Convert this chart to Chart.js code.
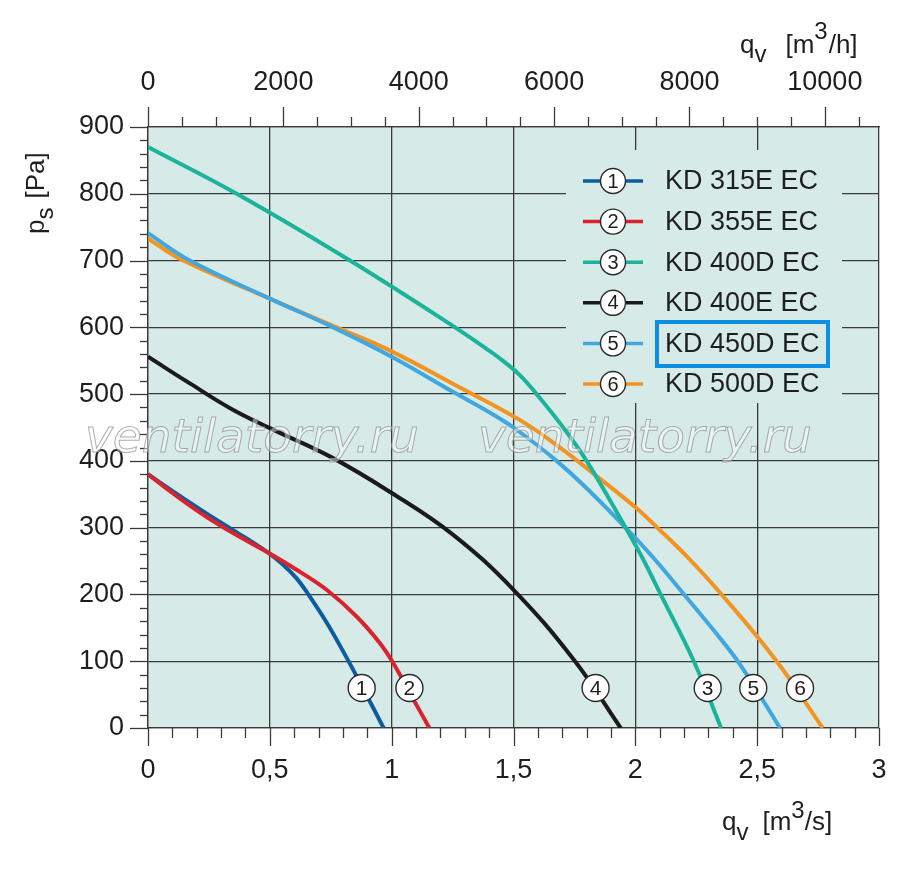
<!DOCTYPE html>
<html><head><meta charset="utf-8">
<script src="https://cdn.jsdelivr.net/npm/chart.js@4.4.0/dist/chart.umd.min.js"></script>
<style>html,body{margin:0;padding:0;background:#fff}</style>
</head><body>
<canvas id="c" width="900" height="870"></canvas>
<script>
// ---- data (q in m3/s, p in Pa) ----
const names = ['KD 315E EC','KD 355E EC','KD 400D EC','KD 400E EC','KD 450D EC','KD 500D EC'];
const colors = ['#0d5c9e','#d9232e','#1cb39b','#1a1a1a','#41a7df','#f39321'];
const q1 = [0, 0.104, 0.241, 0.364, 0.487, 0.55, 0.61, 0.658, 0.733, 0.802, 0.870, 0.967];
const p1 = [380, 354, 321, 293, 264, 246, 224, 200, 158, 114, 68, 0];
const q2 = [0, 0.104, 0.241, 0.378, 0.487, 0.610, 0.733, 0.856, 0.952, 1.007, 1.075, 1.155];
const p2 = [380, 351, 316, 286, 264, 237, 207, 167, 127, 97, 52, 0];
const q3 = [0, 0.364, 0.829, 1.26, 1.4, 1.47, 1.53, 1.595, 1.7, 1.8, 1.96, 2.033, 2.104, 2.24, 2.352];
const p3 = [870, 800, 700, 600, 565, 546, 527, 500, 452, 400, 300, 252, 200, 100, 0];
const q4 = [0, 0.172, 0.337, 0.5, 0.75, 1.0, 1.25, 1.5, 1.75, 1.94];
const p4 = [556, 516, 479, 449, 406, 352, 290, 207, 101, 0];
const q5 = [0, 0.172, 0.5, 0.76, 1.0, 1.253, 1.4, 1.5, 1.677, 1.82, 1.96, 2.081, 2.2, 2.32, 2.43, 2.594];
const p5 = [741, 700, 643, 600, 556, 503, 473, 450, 400, 352, 300, 252, 200, 147, 95, 0];
const q6 = [0, 0.145, 0.5, 0.774, 1.0, 1.253, 1.527, 1.691, 1.828, 2.005, 2.09, 2.214, 2.354, 2.58, 2.769];
const p6 = [733, 700, 643, 600, 564, 515, 461, 420, 381, 329, 300, 256, 200, 100, 0];
const labelQ = [0.877, 1.073, 2.297, 1.837, 2.484, 2.676];
const labelP = 60;
const xTicks = [0, 0.5, 1, 1.5, 2, 2.5, 3];
const xMinorStep = 0.1;
const yTicks = [0, 100, 200, 300, 400, 500, 600, 700, 800, 900];
const yMinorStep = 20;
const topTicks = [0, 2000, 4000, 6000, 8000, 10000];
const topMinorStep = 500;
const watermark = 'ventilatorry.ru';

const qs = [q1,q2,q3,q4,q5,q6], ps = [p1,p2,p3,p4,p5,p6];
const drawOrder = [2, 1, 0, 3, 4, 5];
const FONT = '"Liberation Sans", Arial, sans-serif';
const PLOT_BG = '#d6ebe8';
const GRID = '#3a3a3a';
const TXT = '#1e1e1e';

const datasets = qs.map((q, i) => ({
  label: names[i],
  data: q.map((v, k) => ({x: v, y: ps[i][k]})),
  borderColor: colors[i],
  backgroundColor: colors[i],
  borderWidth: 4,
  pointRadius: 0,
  showLine: true,
  tension: 0.4,
  order: drawOrder[i],
  xAxisID: 'x', yAxisID: 'y'
}));

function circleNum(ctx, x, y, r, n, fs) {
  ctx.beginPath(); ctx.arc(x, y, r, 0, Math.PI * 2);
  ctx.fillStyle = '#ffffff'; ctx.fill();
  ctx.lineWidth = 1.4; ctx.strokeStyle = '#2a2a2a'; ctx.stroke();
  ctx.fillStyle = TXT; ctx.font = fs + 'px ' + FONT;
  ctx.textAlign = 'center'; ctx.textBaseline = 'middle';
  ctx.fillText(String(n), x, y + 1);
}

function rich(ctx, x, y, parts) {
  let cx = x;
  ctx.textAlign = 'left'; ctx.textBaseline = 'alphabetic';
  for (const p of parts) {
    ctx.font = p.size + 'px ' + FONT;
    cx += p.gap || 0;
    ctx.fillText(p.t, cx, y + (p.dy || 0));
    cx += ctx.measureText(p.t).width;
  }
}

const deco = {
  id: 'deco',
  beforeDraw(chart) {
    const {ctx, chartArea: a} = chart;
    ctx.save(); ctx.fillStyle = PLOT_BG;
    ctx.fillRect(a.left, a.top, a.right - a.left, a.bottom - a.top);
    ctx.restore();
  },
  afterDatasetsDraw(chart) {
    const {ctx, chartArea: a, scales} = chart;
    const sx = scales.x, sy = scales.y, st = scales.x2;
    ctx.save();
    ctx.strokeStyle = GRID; ctx.lineWidth = 1.3;
    for (let v = 0; v <= 3.0001; v += xMinorStep) {
      const x = Math.round(sx.getPixelForValue(v)) + 0.5;
      const major = Math.abs(v * 2 - Math.round(v * 2)) < 1e-6;
      ctx.beginPath(); ctx.moveTo(x, a.bottom); ctx.lineTo(x, a.bottom + (major ? 18 : 10)); ctx.stroke();
    }
    for (let v = 0; v <= 900; v += yMinorStep) {
      const y = Math.round(sy.getPixelForValue(v)) + 0.5;
      const major = v % 100 === 0;
      ctx.beginPath(); ctx.moveTo(a.left, y); ctx.lineTo(a.left - (major ? 18 : 8), y); ctx.stroke();
    }
    for (let v = 0; v <= 10800; v += topMinorStep) {
      const x = Math.round(st.getPixelForValue(v)) + 0.5;
      const major = v % 2000 === 0;
      ctx.beginPath(); ctx.moveTo(x, a.top); ctx.lineTo(x, a.top - (major ? 20 : 10)); ctx.stroke();
    }
    // watermark
    ctx.font = 'italic 47px "DejaVu Sans", sans-serif';
    ctx.textAlign = 'left'; ctx.textBaseline = 'alphabetic';
    ctx.fillStyle = 'rgba(255,255,255,0.45)';
    ctx.strokeStyle = 'rgba(145,145,145,0.75)'; ctx.lineWidth = 1;
    [85, 478].forEach(x => { ctx.fillText(watermark, x, 452); ctx.strokeText(watermark, x, 452); });
    // legend
    ctx.fillStyle = PLOT_BG;
    ctx.fillRect(566, 150, 276, 253);
    for (let i = 0; i < names.length; i++) {
      const y = 181 + i * 40.6;
      ctx.strokeStyle = colors[i]; ctx.lineWidth = 3.5;
      ctx.beginPath(); ctx.moveTo(583, y); ctx.lineTo(643, y); ctx.stroke();
      circleNum(ctx, 613, y, 12.5, i + 1, 20);
      ctx.fillStyle = TXT; ctx.font = '27px ' + FONT;
      ctx.textAlign = 'left'; ctx.textBaseline = 'middle';
      ctx.fillText(names[i], 665, y + 1);
    }
    ctx.strokeStyle = '#0a8fe2'; ctx.lineWidth = 4;
    ctx.strokeRect(657, 322, 171, 44);
    // curve labels
    for (let i = 0; i < labelQ.length; i++) {
      circleNum(ctx, sx.getPixelForValue(labelQ[i]), sy.getPixelForValue(labelP), 13.5, i + 1, 21);
    }
    // axis titles
    ctx.fillStyle = TXT;
    rich(ctx, 722, 830, [{t:'q', size:26}, {t:'v', size:24, dy:10}, {t:'[m', size:26, gap:14}, {t:'3', size:24, dy:-12}, {t:'/s]', size:26}]);
    rich(ctx, 740, 53, [{t:'q', size:26}, {t:'v', size:24, dy:9}, {t:'[m', size:26, gap:19}, {t:'3', size:24, dy:-14}, {t:'/h]', size:26, gap:1}]);
    ctx.save();
    ctx.translate(44, 234); ctx.rotate(-Math.PI / 2);
    rich(ctx, 0, 0, [{t:'p', size:26}, {t:'s', size:24, dy:9}, {t:'[Pa]', size:26, gap:9}]);
    ctx.restore();
    ctx.restore();
  }
};

const noPad = s => { s.paddingLeft = 0; s.paddingRight = 0; };

new Chart(document.getElementById('c'), {
  type: 'scatter',
  data: {datasets},
  options: {
    responsive: false, animation: false, devicePixelRatio: 1,
    layout: {padding: {left: 0, right: 21, top: 0, bottom: 0}},
    plugins: {legend: {display: false}, tooltip: {enabled: false}},
    scales: {
      x: {
        type: 'linear', position: 'bottom', min: 0, max: 3,
        afterBuildTicks: s => { s.ticks = xTicks.map(v => ({value: v})); },
        afterFit: s => { s.height = 142; noPad(s); },
        ticks: {callback: v => String(v).replace('.', ','), font: {family: FONT, size: 27}, color: TXT, padding: 26, maxRotation: 0, autoSkip: false},
        grid: {color: GRID, lineWidth: 1.3, drawTicks: false},
        border: {display: true, color: GRID, width: 1.3}
      },
      x2: {
        type: 'linear', position: 'top', min: 0, max: 10800,
        afterBuildTicks: s => { s.ticks = topTicks.map(v => ({value: v})); },
        afterFit: s => { s.height = 127; noPad(s); },
        ticks: {callback: v => String(v), font: {family: FONT, size: 27}, color: TXT, padding: 28, maxRotation: 0, autoSkip: false},
        grid: {display: false, drawTicks: false},
        border: {display: true, color: GRID, width: 1.3}
      },
      y: {
        type: 'linear', position: 'left', min: 0, max: 900,
        afterBuildTicks: s => { s.ticks = yTicks.map(v => ({value: v})); },
        afterFit: s => { s.width = 148; },
        ticks: {font: {family: FONT, size: 27}, color: TXT, padding: 24, autoSkip: false},
        grid: {color: GRID, lineWidth: 1.3, drawTicks: false},
        border: {display: true, color: GRID, width: 1.3}
      }
    }
  },
  plugins: [deco]
});
</script>
</body></html>
